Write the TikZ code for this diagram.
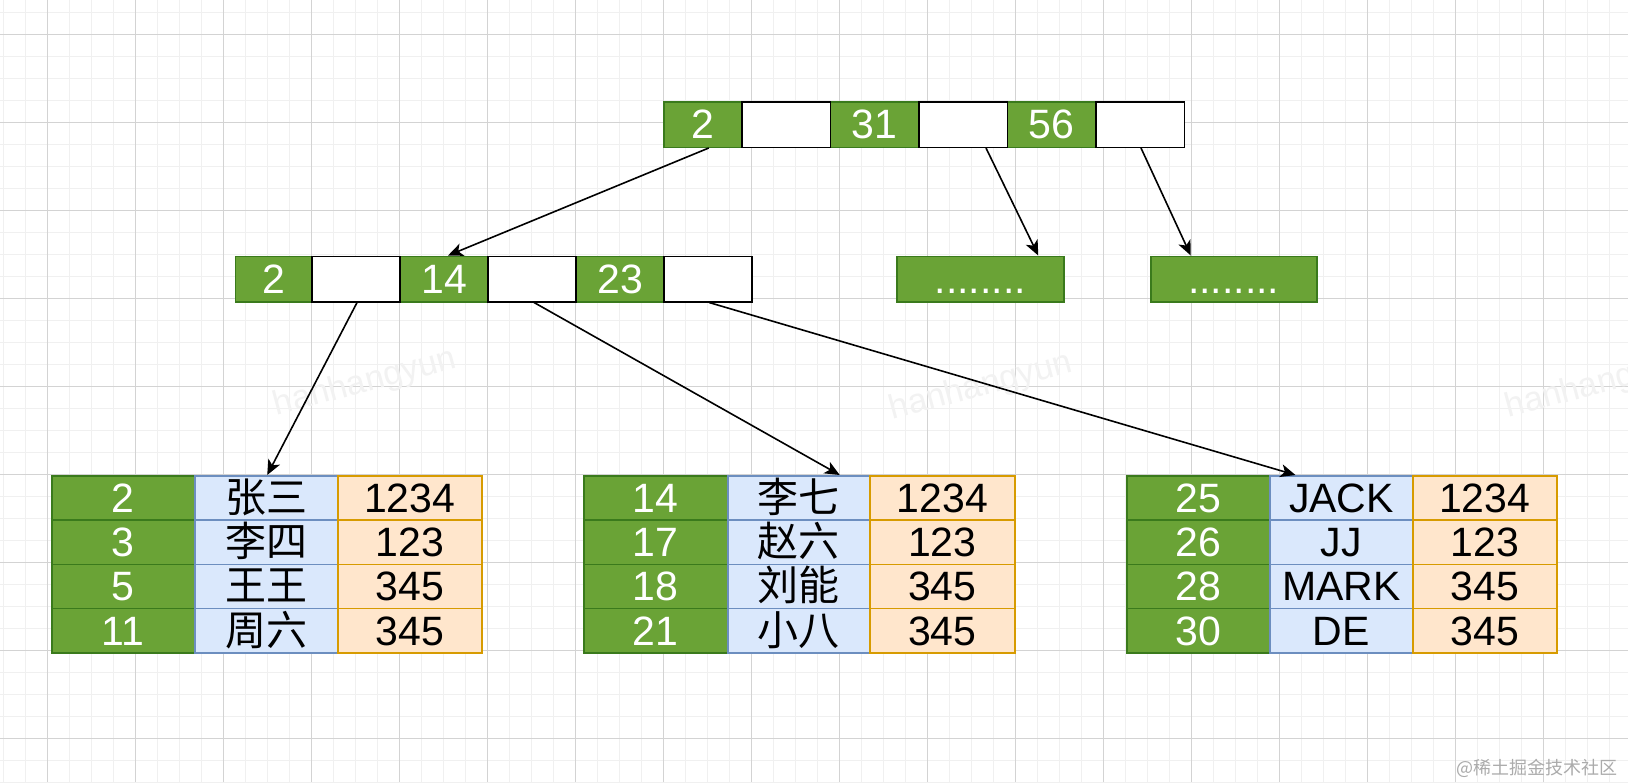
\documentclass[tikz,border=0pt]{standalone}
\usepackage{fontspec}
\setmainfont{Liberation Sans}
\newfontfamily\cjk{Noto Sans CJK SC}
\usetikzlibrary{arrows.meta}
\definecolor{kg}{HTML}{6AA336}
\definecolor{kgd}{HTML}{3A7A1C}
\definecolor{bfill}{HTML}{DAE8FC}
\definecolor{bdraw}{HTML}{6C8EBF}
\definecolor{ofill}{HTML}{FFE6CC}
\definecolor{odraw}{HTML}{D79B00}
\definecolor{gminor}{HTML}{F0F0F0}
\definecolor{gmajor}{HTML}{D3D3D3}
\newcommand\mkcell[6]{%
  \pgfmathsetmacro\mkcw{#4-#3}%
  \node[#2, anchor=north west, minimum width=\mkcw pt] (#1) at (#3,#5) {#6};%
}
\newcommand\leafrow[9]{%
  \pgfmathsetmacro\mkytop{475+(#2-1)*44.25}%
  \mkcell{#1-#2-1}{lg}{#3}{#4}{\mkytop}{#7}%
  \mkcell{#1-#2-2}{lb}{#4}{#5}{\mkytop}{#8}%
  \mkcell{#1-#2-3}{lo}{#5}{#6}{\mkytop}{#9}%
}
\begin{document}
\begin{tikzpicture}[x=1pt,y=-1pt,
  base/.style={rectangle, inner sep=0pt, line width=1.5pt, font=\fontsize{41}{41}\selectfont},
  knode/.style={base, minimum height=45.5pt, text height=37pt, text depth=8.5pt},
  keyc/.style={knode, fill=kg, draw=kgd, text=white},
  ptrc/.style={knode, fill=white, draw=black},
  leaf/.style={base, minimum height=44.25pt, text height=36.5pt, text depth=7.75pt},
  lg/.style={leaf, fill=kg, draw=kgd, text=white},
  lb/.style={leaf, fill=bfill, draw=bdraw, text=black},
  lo/.style={leaf, fill=ofill, draw=odraw, text=black},
  conn/.style={line width=1.6pt, -{Stealth[length=15pt, width=13pt, inset=4pt]}},
  minorl/.style={draw=gminor, line width=1pt},
  majorl/.style={draw=gmajor, line width=1pt},
  wmark/.style={text=black!5, font=\fontsize{34}{34}\selectfont, rotate=15}
]
\useasboundingbox (0,0) rectangle (1628,782);
\fill[white] (0,0) rectangle (1628,782);
% grid
\foreach \i in {0,...,73} \draw[minorl] ({3.3+22*\i},0) -- ({3.3+22*\i},782);
\foreach \j in {0,...,35} \draw[minorl] (0,{12.3+22*\j}) -- (1628,{12.3+22*\j});
\foreach \i in {0,...,17} \draw[majorl] ({47.3+88*\i},0) -- ({47.3+88*\i},782);
\foreach \j in {0,...,8} \draw[majorl] (0,{34.3+88*\j}) -- (1628,{34.3+88*\j});
% faint watermarks
\node[wmark] (w1) at (365,383) {hanhangyun};
\node[wmark] (w2) at (981,387) {hanhangyun};
\node[wmark] (w3) at (1597,385) {hanhangyun};
\node[anchor=east, text=black!33, font=\cjk\fontsize{18}{18}\selectfont] (w4) at (1621,768) {@稀土掘金技术社区};
% root node
\mkcell{t1}{keyc}{663}{741}{101}{2}
\mkcell{t3}{keyc}{829.5}{918}{101}{31}
\mkcell{t5}{keyc}{1006.5}{1095}{101}{56}
\mkcell{t2}{ptrc}{741}{829.5}{101}{}
\mkcell{t4}{ptrc}{918}{1006.5}{101}{}
\mkcell{t6}{ptrc}{1095}{1183.5}{101}{}
% middle node
\mkcell{m1}{keyc}{234.5}{311.3}{255.5}{2}
\mkcell{m3}{keyc}{399.3}{487.3}{255.5}{14}
\mkcell{m5}{keyc}{575.3}{663.3}{255.5}{23}
\mkcell{m2}{ptrc}{311.3}{399.3}{255.5}{}
\mkcell{m4}{ptrc}{487.3}{575.3}{255.5}{}
\mkcell{m6}{ptrc}{663.3}{751.3}{255.5}{}
% other middle nodes
\mkcell{d1}{keyc}{896}{1063}{255.5}{........}
\mkcell{d2}{keyc}{1150}{1316}{255.5}{........}
% leaves
\leafrow{A}{1}{51}{194}{337}{481}{2}{{\cjk 张三}}{1234}
\leafrow{A}{2}{51}{194}{337}{481}{3}{{\cjk 李四}}{123}
\leafrow{A}{3}{51}{194}{337}{481}{5}{{\cjk 王王}}{345}
\leafrow{A}{4}{51}{194}{337}{481}{11}{{\cjk 周六}}{345}
\leafrow{B}{1}{583}{727}{869}{1014}{14}{{\cjk 李七}}{1234}
\leafrow{B}{2}{583}{727}{869}{1014}{17}{{\cjk 赵六}}{123}
\leafrow{B}{3}{583}{727}{869}{1014}{18}{{\cjk 刘能}}{345}
\leafrow{B}{4}{583}{727}{869}{1014}{21}{{\cjk 小八}}{345}
\leafrow{C}{1}{1126}{1269.4}{1412}{1556}{25}{JACK}{1234}
\leafrow{C}{2}{1126}{1269.4}{1412}{1556}{26}{JJ}{123}
\leafrow{C}{3}{1126}{1269.4}{1412}{1556}{28}{MARK}{345}
\leafrow{C}{4}{1126}{1269.4}{1412}{1556}{30}{DE}{345}
% connectors
\draw[conn] ([xshift=6pt]t1.south) -- ([xshift=4pt]m3.north);
\draw[conn] ([xshift=23pt]t4.south) -- ([xshift=58pt]d1.north);
\draw[conn] ([xshift=1pt]t6.south) -- ([xshift=-43pt]d2.north);
\draw[conn] ([xshift=1pt]m2.south) -- ([xshift=1pt]A-1-2.north);
\draw[conn] ([xshift=2pt]m4.south) -- ([xshift=41pt]B-1-2.north);
\draw[conn] ([xshift=1pt]m6.south) -- ([xshift=-46pt]C-1-2.north);
\end{tikzpicture}
\end{document}
